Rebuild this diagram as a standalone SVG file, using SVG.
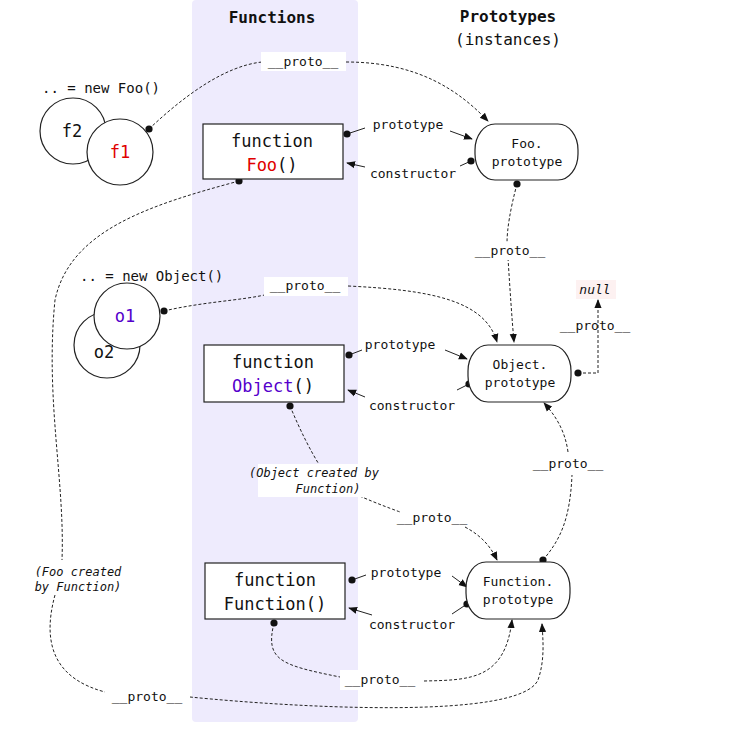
<svg xmlns="http://www.w3.org/2000/svg" width="733" height="740" viewBox="0 0 733 740">
<defs>
<style>
text{font-family:"DejaVu Sans Mono","Liberation Mono",monospace;fill:#111}
.h{font-weight:bold;font-size:16px;text-anchor:middle}
.n{font-size:17px;text-anchor:middle}
.p{font-size:13px;text-anchor:middle}
.l{font-size:13px;text-anchor:middle}
.i{font-size:12px;font-style:italic;text-anchor:middle}
.box{fill:#fff;stroke:#222;stroke-width:1.2}
.c{fill:#fff;stroke:#222;stroke-width:1.2}
.e{fill:none;stroke:#222;stroke-width:1}
.d{stroke-dasharray:3,2}
.bg{fill:#fff}
</style>
<marker id="a" viewBox="0 0 10 10" refX="9" refY="5" markerWidth="9" markerHeight="9" orient="auto-start-reverse" markerUnits="userSpaceOnUse"><path d="M0,1 L10,5 L0,9 Z" fill="#111"/></marker>
<marker id="o" viewBox="0 0 10 10" refX="5" refY="5" markerWidth="8" markerHeight="8" markerUnits="userSpaceOnUse"><circle cx="5" cy="5" r="4.5" fill="#111"/></marker>
</defs>
<rect x="192" y="0" width="166" height="722" rx="4" fill="#eeebfd"/>
<text class="h" x="272" y="23">Functions</text>
<text class="h" x="508" y="22">Prototypes</text>
<text class="n" x="508" y="45" style="font-size:16px">(instances)</text>

<g id="connectors">
<path class="e d" d="M149,129 C185,95 225,66 262,62" marker-start="url(#o)"/>
<path class="e d" d="M346,62 C420,62 460,92 488,121" marker-end="url(#a)"/>
<path class="e" d="M347,134 L365,128" marker-start="url(#o)"/>
<path class="e" d="M450,131 L472,139" marker-end="url(#a)"/>
<path class="e" d="M471,161 L460,166" marker-start="url(#o)"/>
<path class="e" d="M365,167 L347,163" marker-end="url(#a)"/>
<path class="e d" d="M517,184 C510,210 507,230 507,243" marker-start="url(#o)"/>
<path class="e d" d="M508,258 C510,290 512,320 514,342" marker-end="url(#a)"/>
<path class="e d" d="M239,181 C150,205 70,230 55,300 C45,400 65,480 62,560"  marker-start="url(#o)"/>
<path class="e d" d="M55,595 C40,650 60,680 105,692"/>
<path class="e d" d="M190,697 C300,708 520,720 538,680 C545,660 543,640 542,624" marker-end="url(#a)"/>
<path class="e d" d="M164,311 C210,300 260,300 280,290" marker-start="url(#o)"/>
<path class="e d" d="M348,286 C430,290 485,300 497,342" marker-end="url(#a)"/>
<path class="e" d="M349,355 L362,350" marker-start="url(#o)"/>
<path class="e" d="M445,350 L467,359" marker-end="url(#a)"/>
<path class="e" d="M469,384 L457,390" marker-start="url(#o)"/>
<path class="e" d="M365,397 L348,390" marker-end="url(#a)"/>
<path class="e d" d="M578,373 L598,373 L598,300" marker-start="url(#o)" marker-end="url(#a)"/>
<path class="e d" d="M290,406 C300,430 310,450 320,466" marker-start="url(#o)"/>
<path class="e d" d="M355,494 C380,505 395,510 400,512"/>
<path class="e d" d="M465,527 C480,535 490,545 497,560" marker-end="url(#a)"/>
<path class="e d" d="M543,560 C560,540 570,520 572,475" marker-start="url(#o)"/>
<path class="e d" d="M568,452 C565,430 555,415 544,403" marker-end="url(#a)"/>
<path class="e" d="M352,580 L366,575" marker-start="url(#o)"/>
<path class="e" d="M452,576 L467,587" marker-end="url(#a)"/>
<path class="e" d="M467,604 L452,614" marker-start="url(#o)"/>
<path class="e" d="M372,615 L349,608" marker-end="url(#a)"/>
<path class="e d" d="M274,623 C265,660 280,665 340,677" marker-start="url(#o)"/>
<path class="e d" d="M424,681 C470,680 505,680 512,620" marker-end="url(#a)"/>

<rect class="bg" x="261" y="52" width="85" height="19"/>
<text class="l" x="303" y="66">__proto__</text>
<text class="l" x="408" y="129">prototype</text>
<text class="l" x="413" y="178">constructor</text>
<rect class="bg" x="471" y="242" width="78" height="18"/>
<text class="l" x="510" y="255">__proto__</text>
<rect class="bg" x="264" y="277" width="84" height="19"/>
<text class="l" x="305" y="290">__proto__</text>
<text class="l" x="400" y="349">prototype</text>
<text class="l" x="412" y="410">constructor</text>
<text class="l" x="595" y="330">__proto__</text>
<rect class="bg" x="258" y="464" width="112" height="33"/>
<text class="i" x="314" y="477">(Object created by</text>
<text class="i" x="328" y="493">Function)</text>
<text class="l" x="432" y="522">__proto__</text>
<text class="l" x="568" y="468">__proto__</text>
<text class="l" x="406" y="577">prototype</text>
<text class="l" x="412" y="629">constructor</text>
<rect class="bg" x="340" y="670" width="84" height="20"/>
<text class="l" x="380" y="684">__proto__</text>
<text class="i" x="78" y="576">(Foo created</text>
<text class="i" x="78" y="591">by Function)</text>
<rect class="bg" x="108" y="686" width="82" height="20"/>
<text class="l" x="147" y="701">__proto__</text>
</g>

<g id="f2"><circle class="c" cx="73" cy="131" r="33"/><text class="n" x="72" y="137">f2</text></g>
<g id="f1"><circle class="c" cx="120" cy="152" r="33"/><text class="n" x="120" y="158" style="fill:#e00000">f1</text></g>
<text x="42" y="93" style="font-size:14px">.. = new Foo()</text>

<g id="o2"><circle class="c" cx="107" cy="345" r="33"/><text class="n" x="104" y="358">o2</text></g>
<g id="o1"><circle class="c" cx="127" cy="316" r="33"/><text class="n" x="125" y="322" style="fill:#5500cc">o1</text></g>
<text x="80" y="281" style="font-size:14px">.. = new Object()</text>

<g id="Foo"><rect class="box" x="203" y="124" width="140" height="55"/>
<text class="n" x="272" y="147">function</text>
<text class="n" x="272" y="171"><tspan style="fill:#e00000">Foo</tspan>()</text></g>
<g id="Object"><rect class="box" x="204" y="345" width="140" height="57"/>
<text class="n" x="273" y="368">function</text>
<text class="n" x="273" y="392"><tspan style="fill:#5500cc">Object</tspan>()</text></g>
<g id="Function"><rect class="box" x="205" y="563" width="140" height="56"/>
<text class="n" x="275" y="586">function</text>
<text class="n" x="275" y="610">Function()</text></g>

<g id="FooProto"><rect class="box" x="475" y="124" width="103" height="56" rx="20" ry="26"/>
<text class="p" x="527" y="148">Foo.</text><text class="p" x="527" y="166">prototype</text></g>
<g id="ObjectProto"><rect class="box" x="468" y="345" width="103" height="57" rx="20" ry="26"/>
<text class="p" x="520" y="369">Object.</text><text class="p" x="520" y="387">prototype</text></g>
<g id="FunctionProto"><rect class="box" x="466" y="562" width="104" height="57" rx="20" ry="26"/>
<text class="p" x="518" y="586">Function.</text><text class="p" x="518" y="604">prototype</text></g>

<g id="null"><rect x="576" y="280" width="40" height="19" fill="#fdf1f1"/>
<text x="595" y="294" style="font-size:13px;font-style:italic;text-anchor:middle">null</text></g>
</svg>
